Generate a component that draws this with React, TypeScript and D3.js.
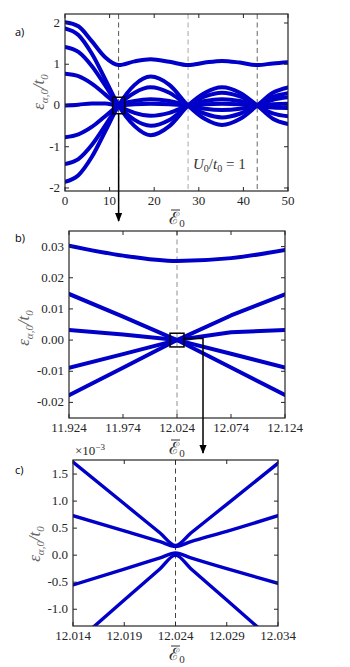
import React from "react";
import * as d3 from "d3";

// ---- panel a: full sweep 0..50 ----
const aE = [0, 3, 6, 9, 12.02, 15.6, 19.2, 23.4, 27.6, 31.4, 35.2, 39.2, 43.1, 46.6, 50];
const aBound = [2.02, 1.92, 1.56, 1.17, 0.98, 1.07, 1.12, 1.06, 0.98, 1.04, 1.08, 1.04, 0.98, 1.02, 1.05];
const aBand1 = [1.87, 1.71, 1.26, 0.64, 0, -0.5, -0.72, -0.5, 0, 0.31, 0.44, 0.31, 0, -0.32, -0.45];
const aBand2 = [1.42, 1.3, 0.96, 0.49, 0, -0.35, -0.49, -0.35, 0, 0.22, 0.31, 0.22, 0, -0.19, -0.26];
const aBand3 = [0.77, 0.71, 0.53, 0.27, 0, -0.18, -0.25, -0.18, 0, 0.11, 0.15, 0.11, 0, -0.05, -0.06];
const aBand4 = [0, 0.02, 0.05, 0.05, 0, 0.03, 0.04, 0.03, 0, 0.03, 0.04, 0.03, 0, 0.03, 0.04];
const aBand5 = [-0.77, -0.7, -0.52, -0.26, 0, 0.11, 0.15, 0.11, 0, -0.08, -0.11, -0.08, 0, 0.14, 0.2];
const aBand6 = [-1.42, -1.3, -0.96, -0.49, 0, 0.31, 0.44, 0.31, 0, -0.2, -0.29, -0.2, 0, 0.21, 0.3];
const aBand7 = [-1.85, -1.69, -1.25, -0.63, 0, 0.5, 0.7, 0.5, 0, -0.33, -0.47, -0.33, 0, 0.31, 0.44];
const aNodes = [12.02, 27.6, 43.1];
const aXTicks = [0, 10, 20, 30, 40, 50];
const aYTicks = [-2, -1, 0, 1, 2];

// ---- panel b: zoom around first node ----
const bE = [11.924, 11.974, 12.024, 12.074, 12.124];
const bTop = [0.0303, 0.0271, 0.0254, 0.0263, 0.0289];
const bUp = [0.0148, 0.0075, 0, 0.0079, 0.0147];
const bFlat = [0.0032, 0.0018, 0, 0.0025, 0.0032];
const bDown = [-0.0089, -0.0045, 0, -0.0044, -0.0088];
const bLow = [-0.0177, -0.0089, 0, -0.0088, -0.0176];
const bXTicks = [11.924, 11.974, 12.024, 12.074, 12.124];
const bYTicks = [-0.02, -0.01, 0, 0.01, 0.02, 0.03];

// ---- panel c: avoided crossing, x1e-3 ----
const cE = [12.014, 12.019, 12.0225, 12.024, 12.0255, 12.029, 12.034];
const cA = [1.72, 0.95, 0.41, 0.18, 0.41, 0.94, 1.7];
const cB = [0.73, 0.45, 0.25, 0.16, 0.25, 0.44, 0.73];
const cC = [-0.55, -0.26, -0.05, 0.04, -0.05, -0.25, -0.52];
const cD = [-1.66, -0.83, -0.25, 0, -0.25, -0.83, -1.66];
const cXTicks = [12.014, 12.019, 12.024, 12.029, 12.034];
const cYTicks = [-1, -0.5, 0, 0.5, 1, 1.5];

const BLUE = "#0000c8";
const AX = "#262626";
const SERIF = "Liberation Serif, DejaVu Serif, serif";
const SANS = "Open Sans, Noto Sans, sans-serif";

function YLabel({ x, y }) {
  return (
    <text transform={`translate(${x},${y}) rotate(-90)`} textAnchor="middle"
      style={{ fontFamily: SERIF, fontStyle: "italic", fontSize: 17 }} fill="#666">
      ε<tspan fontSize={11} dy={4}>α,0</tspan>
      <tspan dy={-4}>/t</tspan>
      <tspan fontSize={11} dy={4}>0</tspan>
    </text>
  );
}

function XLabel({ x, y }) {
  return (
    <g>
      <line x1={x - 6} x2={x + 3} y1={y - 14} y2={y - 14} stroke="#333" strokeWidth={1} />
      <text x={x} y={y} textAnchor="middle" style={{ fontFamily: SERIF, fontSize: 17 }} fill="#333">
        ℰ<tspan fontSize={11} dy={3}>0</tspan>
      </text>
    </g>
  );
}

function Panel({ id, box, xDomain, yDomain, xTicks, yTicks, xFmt, yFmt, xs, series, curves, width, dashes }) {
  const x = d3.scaleLinear().domain(xDomain).range([box.l, box.r]);
  const y = d3.scaleLinear().domain(yDomain).range([box.b, box.t]);
  const tl = 4;
  return (
    <g>
      <defs>
        <clipPath id={id}>
          <rect x={box.l} y={box.t} width={box.r - box.l} height={box.b - box.t} />
        </clipPath>
      </defs>
      {dashes.map((d, i) => (
        <line key={i} x1={x(d.at)} x2={x(d.at)} y1={box.t} y2={box.b}
          stroke={d.color} strokeWidth={d.w} strokeDasharray="5,3.5" />
      ))}
      <g clipPath={`url(#${id})`}>
        {series.map((s, i) => {
          const line = d3.line<number>().x((_, j) => x(xs[j])).y((v) => y(v)).curve(curves[i]);
          return <path key={i} d={line(s) || ""} fill="none" stroke={BLUE} strokeWidth={width} strokeLinecap="round" strokeLinejoin="round" />;
        })}
      </g>
      <rect x={box.l} y={box.t} width={box.r - box.l} height={box.b - box.t} fill="none" stroke={AX} strokeWidth={1.2} />
      {xTicks.map((t) => (
        <g key={"x" + t}>
          <line x1={x(t)} x2={x(t)} y1={box.b} y2={box.b - tl} stroke={AX} />
          <line x1={x(t)} x2={x(t)} y1={box.t} y2={box.t + tl} stroke={AX} />
          <text x={x(t)} y={box.b + 13.5} textAnchor="middle" style={{ fontFamily: SERIF, fontSize: 13 }} fill={AX}>
            {xFmt(t)}
          </text>
        </g>
      ))}
      {yTicks.map((t) => (
        <g key={"y" + t}>
          <line x1={box.l} x2={box.l + tl} y1={y(t)} y2={y(t)} stroke={AX} />
          <line x1={box.r} x2={box.r - tl} y1={y(t)} y2={y(t)} stroke={AX} />
          <text x={box.l - 5} y={y(t) + 4} textAnchor="end" style={{ fontFamily: SERIF, fontSize: 13 }} fill={AX}>
            {yFmt(t)}
          </text>
        </g>
      ))}
    </g>
  );
}

const minus = (s: string) => s.replace("−", "-");
const M = d3.curveMonotoneX;
const L = d3.curveLinear;

export default function App() {
  const boxA = { l: 65, r: 288, t: 14, b: 191 };
  const boxB = { l: 69, r: 285, t: 231, b: 418 };
  const boxC = { l: 73, r: 278, t: 460, b: 626 };

  const xa = d3.scaleLinear().domain([0, 50]).range([boxA.l, boxA.r]);
  const ya = d3.scaleLinear().domain([-2.073, 2.218]).range([boxA.b, boxA.t]);
  const xb = d3.scaleLinear().domain([11.924, 12.124]).range([boxB.l, boxB.r]);
  const yb = d3.scaleLinear().domain([-0.025, 0.035]).range([boxB.b, boxB.t]);

  const ax = xa(12.024);
  const bx = xb(12.024);

  return (
    <svg width={350} height={667} style={{ position: "absolute", left: 0, top: 0, background: "#fff" }}>
      <defs>
        <marker id="ah" viewBox="0 0 10 10" refX={9} refY={5} markerWidth={6} markerHeight={6} orient="auto">
          <path d="M0,1 L10,5 L0,9 z" fill="#000" />
        </marker>
      </defs>

      <Panel id="ca" box={boxA} xDomain={[0, 50]} yDomain={[-2.073, 2.218]}
        xTicks={aXTicks} yTicks={aYTicks} xFmt={(t) => String(t)} yFmt={(t) => minus(String(t))}
        xs={aE} series={[aBound, aBand1, aBand2, aBand3, aBand4, aBand5, aBand6, aBand7]}
        curves={[M, M, M, M, M, M, M, M]} width={4}
        dashes={[
          { at: aNodes[0], color: "#555", w: 1 },
          { at: aNodes[1], color: "#bbb", w: 1.3 },
          { at: aNodes[2], color: "#666", w: 1 },
        ]} />
      <Panel id="cb" box={boxB} xDomain={[11.924, 12.124]} yDomain={[-0.025, 0.035]}
        xTicks={bXTicks} yTicks={bYTicks} xFmt={(t) => t.toFixed(3)} yFmt={(t) => minus(d3.format(".2f")(t))}
        xs={bE} series={[bTop, bUp, bFlat, bDown, bLow]}
        curves={[M, L, L, L, L]} width={4}
        dashes={[{ at: 12.024, color: "#aaa", w: 1.3 }]} />
      <Panel id="cc" box={boxC} xDomain={[12.014, 12.034]} yDomain={[-1.31, 1.76]}
        xTicks={cXTicks} yTicks={cYTicks} xFmt={(t) => t.toFixed(3)} yFmt={(t) => minus(d3.format(".1f")(t))}
        xs={cE} series={[cA, cB, cC, cD]}
        curves={[M, M, M, M]} width={3.4}
        dashes={[{ at: 12.024, color: "#444", w: 1 }]} />

      {/* zoom boxes and arrows */}
      <rect x={ax - 6} y={ya(0.2)} width={12} height={ya(-0.2) - ya(0.2)} fill="none" stroke="#000" strokeWidth={1.5} />
      <line x1={ax} x2={ax} y1={ya(-0.2)} y2={221} stroke="#000" strokeWidth={1.5} markerEnd="url(#ah)" />
      <rect x={bx - 7} y={yb(0.0022)} width={14} height={yb(-0.0022) - yb(0.0022)} fill="none" stroke="#000" strokeWidth={1.5} />
      <polyline points={`${bx + 7},${yb(0.0005)} ${bx + 26},${yb(0.0005)} ${bx + 26},453`} fill="none"
        stroke="#000" strokeWidth={1.5} markerEnd="url(#ah)" />

      {/* labels */}
      <YLabel x={44} y={92} />
      <YLabel x={29} y={328} />
      <YLabel x={40} y={544} />
      <XLabel x={177} y={224} />
      <XLabel x={177} y={454} />
      <XLabel x={177} y={660} />

      <text x={193} y={169} style={{ fontFamily: SERIF, fontSize: 15 }} fill="#333">
        <tspan fontStyle="italic">U</tspan><tspan fontSize={10} dy={3}>0</tspan>
        <tspan dy={-3}>/</tspan><tspan fontStyle="italic">t</tspan>
        <tspan fontSize={10} dy={3}>0</tspan><tspan dy={-3}> = 1</tspan>
      </text>
      <text x={75} y={455} style={{ fontFamily: SERIF, fontSize: 13 }} fill={AX}>
        ×10<tspan fontSize={9} dy={-5}>−3</tspan>
      </text>

      <text x={15} y={36} style={{ fontFamily: SANS, fontSize: 11 }} fill="#000">a)</text>
      <text x={15} y={242} style={{ fontFamily: SANS, fontSize: 11 }} fill="#000">b)</text>
      <text x={15} y={474} style={{ fontFamily: SANS, fontSize: 11 }} fill="#000">c)</text>
    </svg>
  );
}
